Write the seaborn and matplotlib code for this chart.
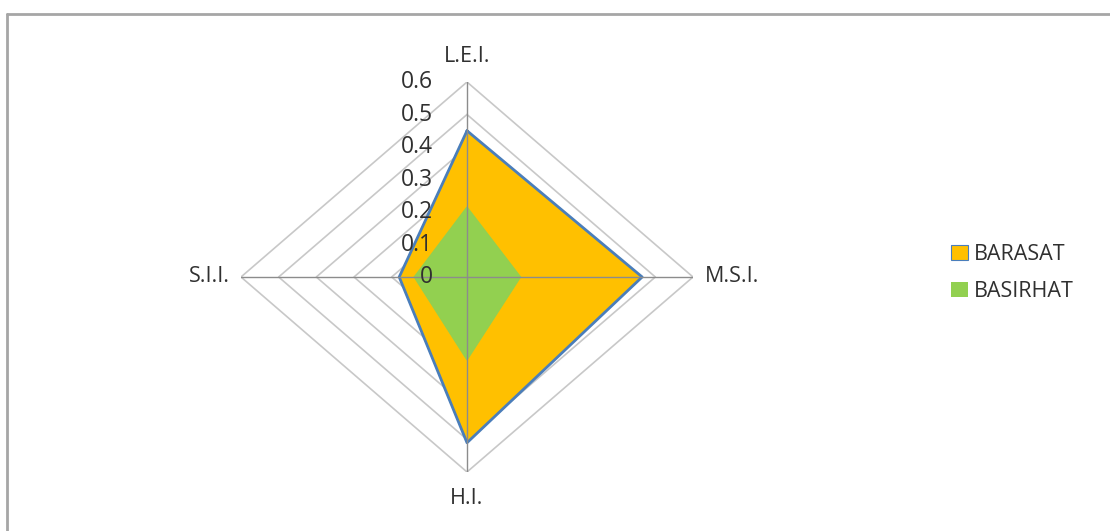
import matplotlib
matplotlib.use("Agg")
import matplotlib.pyplot as plt
import seaborn as sns
from matplotlib.patches import Patch

# data
axes_labels = ['L.E.I.', 'M.S.I.', 'H.I.', 'S.I.I.']
barasat = [0.45, 0.465, 0.51, 0.18]
basirhat = [0.215, 0.142, 0.255, 0.14]
rings = [0.1, 0.2, 0.3, 0.4, 0.5, 0.6]
ring_labels = ['0', '0.1', '0.2', '0.3', '0.4', '0.5', '0.6']

# direction of each axis: up, right, down, left
dirs = [(0, 1), (1, 0), (0, -1), (-1, 0)]


def to_xy(vals):
    xs = [d[0] * v for d, v in zip(dirs, vals)]
    ys = [d[1] * v for d, v in zip(dirs, vals)]
    return xs + xs[:1], ys + ys[:1]


sns.set_theme(style="white")
plt.rcParams['font.family'] = ['Open Sans', 'DejaVu Sans']

W, H = 1110, 531
fig = plt.figure(figsize=(W / 100, H / 100), dpi=100)

# outer chart border
fig.add_artist(plt.Line2D([7 / W, 7 / W], [0, 1 - 14 / H], color='#a6a6a6', lw=2))
fig.add_artist(plt.Line2D([7 / W, 1], [1 - 14 / H, 1 - 14 / H], color='#a6a6a6', lw=2))

cx, cy, rx, ry = 467, 277, 226, 195
ax = fig.add_axes([(cx - rx) / W, (H - cy - ry) / H, 2 * rx / W, 2 * ry / H])
ax.set_xlim(-0.6, 0.6)
ax.set_ylim(-0.6, 0.6)
ax.axis('off')

# grid rings
for r in rings:
    gx, gy = to_xy([r] * 4)
    ax.plot(gx, gy, color='#c8c8c8', lw=1.2, zorder=1)

# series
bx, by = to_xy(barasat)
ax.fill(bx, by, color='#FFC000', zorder=2)
ax.plot(bx, by, color='#4a7ebb', lw=2, zorder=3)
gx, gy = to_xy(basirhat)
ax.fill(gx, gy, color='#92D050', zorder=4)

# spokes
for d in dirs:
    ax.plot([0, d[0] * 0.6], [0, d[1] * 0.6], color='#8c8c8c', lw=1, zorder=5)

tcol = '#303030'

# value labels
for i, lab in enumerate(ring_labels):
    ax.text(-34 / rx * 0.6, i * 0.1, lab, ha='right', va='center', fontsize=16.5,
            color=tcol, zorder=6)

# category labels
ax.text(0, 0.6 + 26 / ry * 0.6, axes_labels[0], ha='center', va='center', fontsize=15.5, color=tcol)
ax.text(0.6 + 12 / rx * 0.6, 0, axes_labels[1], ha='left', va='center', fontsize=15.5, color=tcol)
ax.text(0, -0.6 - 26 / ry * 0.6, axes_labels[2], ha='center', va='center', fontsize=15.5, color=tcol)
ax.text(-0.6 - 11 / rx * 0.6, 0, axes_labels[3], ha='right', va='center', fontsize=15.5, color=tcol)

handles = [Patch(facecolor='#FFC000', edgecolor='#4a7ebb', lw=0.8),
           Patch(facecolor='#92D050', edgecolor='none')]
fig.legend(handles, ['BARASAT', 'BASIRHAT'], loc='center left',
           bbox_to_anchor=(932 / W, 1 - 273 / H), frameon=False, fontsize=15.5,
           handlelength=0.75, handleheight=0.65, handletextpad=0.3, labelspacing=0.75,
           labelcolor=tcol)

fig.savefig('out.png', dpi=100)
